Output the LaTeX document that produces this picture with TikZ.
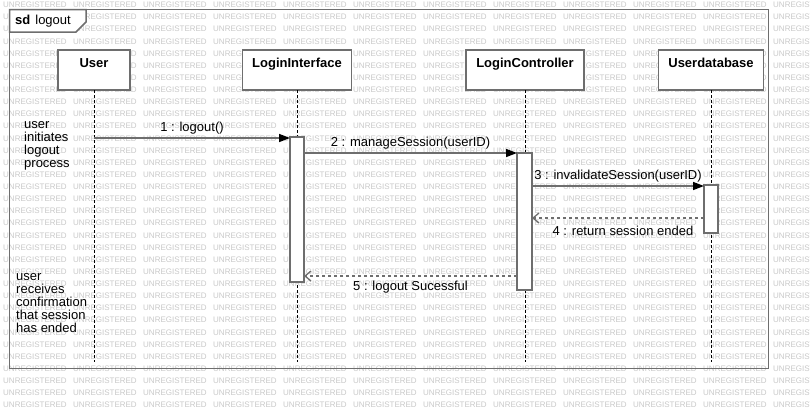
\documentclass[tikz,border=0pt]{standalone}
\usepackage{fontspec}
\setmainfont{Liberation Sans}
\usetikzlibrary{arrows.meta}
\definecolor{edge}{HTML}{6E6E6E}
\definecolor{wm}{HTML}{C9C9C9}
\begin{document}
\begin{tikzpicture}[x=1pt,y=-1pt,
  wmtext/.style={text=wm, font=\fontsize{8}{8}\selectfont, inner sep=0, anchor=west},
  frameline/.style={draw=edge, line width=1.5pt},
  headbox/.style={draw=edge, line width=1.5pt, fill=white, minimum height=40pt, inner sep=0, outer sep=0},
  headlabel/.style={font=\fontsize{13}{13}\selectfont\bfseries, anchor=base, inner sep=0},
  lifeline/.style={draw=black, line width=0.8pt, dash pattern=on 3pt off 2pt},
  actbox/.style={draw=edge, line width=1.5pt, fill=white, inner sep=0, outer sep=0},
  msg/.style={draw=edge, line width=1.5pt, -{Triangle[length=11pt,width=8pt,color=black]}},
  ret/.style={draw=edge, line width=1.3pt, dash pattern=on 3pt off 3pt, -{Straight Barb[length=6pt,width=10pt]}},
  msglabel/.style={font=\fontsize{13}{13}\selectfont, anchor=base, inner sep=0},
  notetext/.style={font=\fontsize{13}{13}\selectfont, align=left, anchor=base west, inner sep=0}
]
\useasboundingbox (0,0) rectangle (810,410);
\fill[white] (0,0) rectangle (810,410);
% watermark
\foreach \r in {0,...,33}{
  \foreach \c in {0,...,11}{
    \node[wmtext] (wm-\r-\c) at (3+70*\c, 5+12.12*\r) {UNREGISTERED};
  }
}
% frame
\draw[frameline] (9.5,9.5) rectangle (768.5,368.5);
\draw[frameline, fill=white] (9.5,9.5) -- (86,9.5) -- (86,22) -- (76,32) -- (9.5,32) -- cycle;
\node[font=\fontsize{13}{13}\selectfont, anchor=base west, inner sep=0] (sdlabel) at (15,24.5) {\textbf{sd}\hspace{5pt}logout};
% lifeline heads
\node[headbox, minimum width=72pt] (user) at (94,70) {};
\node[headbox, minimum width=109pt] (li) at (297,70) {};
\node[headbox, minimum width=118pt] (lc) at (525,70) {};
\node[headbox, minimum width=105pt] (ud) at (711,70) {};
\node[headlabel] (userlbl) at (94,67) {User};
\node[headlabel] (lilbl) at (297,67) {LoginInterface};
\node[headlabel] (lclbl) at (525,67) {LoginController};
\node[headlabel] (udlbl) at (711,67) {Userdatabase};
% lifelines
\coordinate (userend) at (94,362);
\coordinate (liend) at (297,362);
\coordinate (lcend) at (525,362);
\coordinate (udend) at (711,362);
\draw[lifeline] (user.south) -- (userend);
\draw[lifeline] (li.south) -- (liend);
\draw[lifeline] (lc.south) -- (lcend);
\draw[lifeline] (ud.south) -- (udend);
% activations
\node[actbox, minimum width=14pt, minimum height=145pt] (act1) at (297,209.5) {};
\node[actbox, minimum width=15pt, minimum height=137pt] (act2) at (524.5,221.5) {};
\node[actbox, minimum width=14pt, minimum height=48pt] (act3) at (711,209) {};
% messages
\coordinate (m1s) at (94,138);
\draw[msg] (m1s) -- (m1s -| act1.west) node[msglabel, midway, yshift=7pt] (l1) {1 : logout()};
\coordinate (m2y) at (0,153);
\draw[msg] (m2y -| act1.east) -- (m2y -| act2.west) node[msglabel, midway, yshift=6.5pt] (l2) {2 : manageSession(userID)};
\coordinate (m3y) at (0,186);
\draw[msg] (m3y -| act2.east) -- (m3y -| act3.west) node[msglabel, midway, yshift=6.5pt] (l3) {3 : invalidateSession(userID)};
\coordinate (m4y) at (0,218);
\draw[ret] (m4y -| act3.west) -- (m4y -| act2.east) node[msglabel, midway, yshift=-17pt, xshift=5pt] (l4) {4 : return session ended};
\coordinate (m5y) at (0,276);
\draw[ret] (m5y -| act2.west) -- (m5y -| act1.east) node[msglabel, midway, yshift=-14pt] (l5) {5 : logout Sucessful};
% notes (base anchor = baseline of last line)
\node[notetext] (note1) at (24,167) {user\\initiates\\logout\\process};
\node[notetext] (note2) at (16,332) {user\\receives\\confirmation\\that session\\has ended};
\end{tikzpicture}
\end{document}
